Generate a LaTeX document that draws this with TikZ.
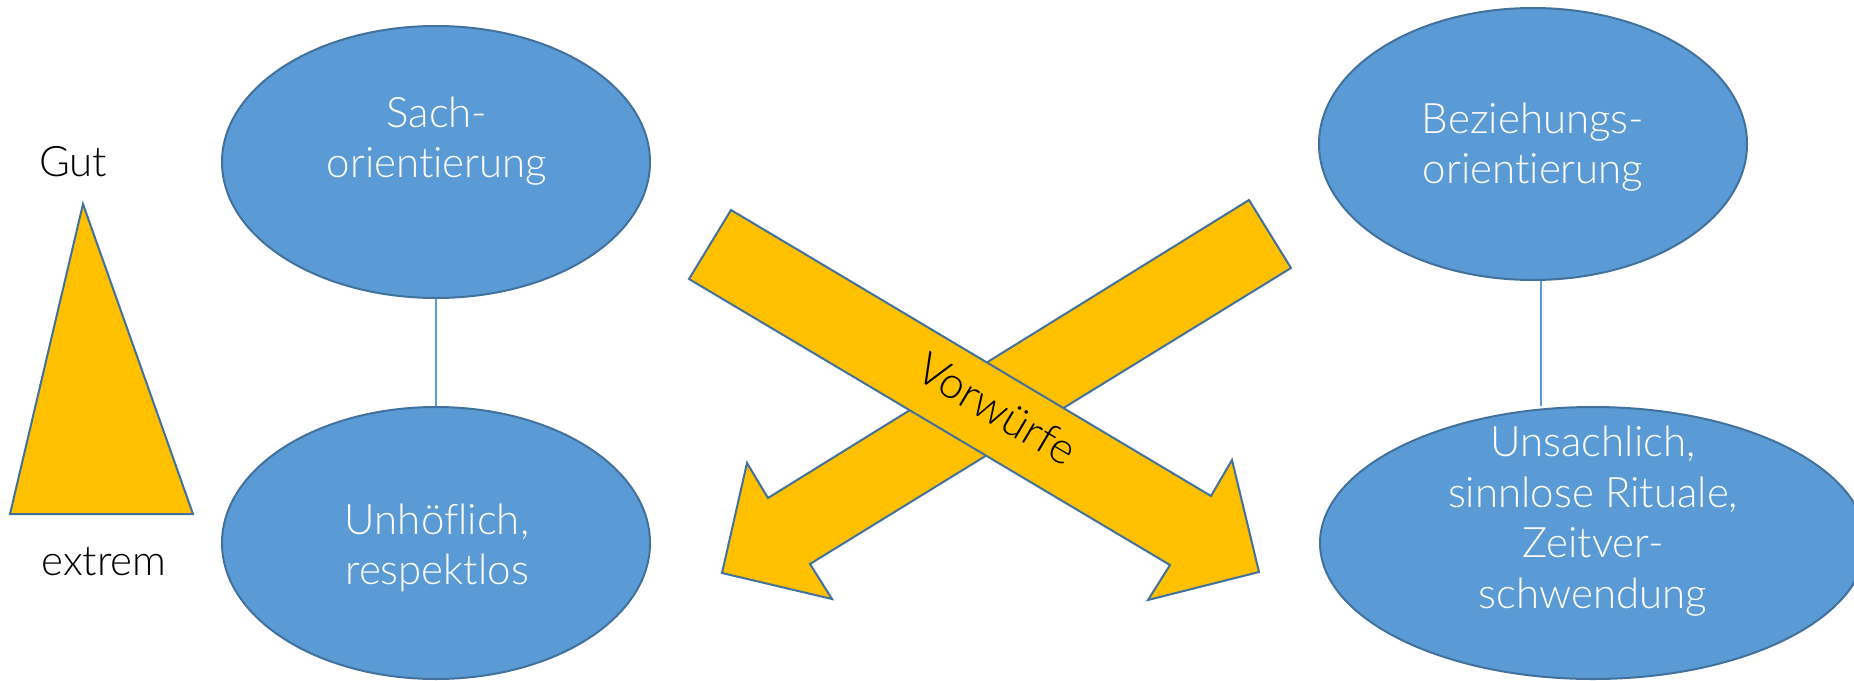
\documentclass[tikz,border=0pt]{standalone}
\usepackage{fontspec}
\setmainfont{Lato Light}[Ligatures=NoCommon]
\usetikzlibrary{shapes.geometric}
\definecolor{ellfill}{HTML}{5B9BD5}
\definecolor{ellline}{HTML}{41719C}
\definecolor{arrfill}{HTML}{FFC000}
\tikzset{
  ell/.style={ellipse, fill=ellfill, draw=ellline, line width=2pt, inner sep=0pt, minimum width=428pt, minimum height=272pt},
  elltext/.style={text=white, align=center, font=\fontsize{42}{50.5}\selectfont, inner sep=0pt},
  sidetext/.style={text=black, font=\fontsize{42}{50}\selectfont, inner sep=0pt},
  yshape/.style={fill=arrfill, draw=ellline, line width=2pt, line join=miter},
  conn/.style={draw=ellfill, line width=1.2pt}
}
\begin{document}
\begin{tikzpicture}[x=1pt,y=-1pt]
\useasboundingbox (0,0) rectangle (1854,680);
% side scale
\node[sidetext, anchor=base] (gut) at (73,176) {Gut};
\draw[yshape] (83,204) -- (193,514) -- (10,514) -- cycle;
\node[sidetext, anchor=base] (extrem) at (104,575) {extrem};
% ellipses
\node[ell] (sach) at (436,162) {};
\node[ell] (unh) at (436,543) {};
\node[ell] (bez) at (1533,144) {};
\node[ell, minimum width=546pt] (uns) at (1593,543) {};
\node[elltext] (sacht) at (437,141) {Sach-\\orientierung};
\node[elltext] (unht) at (437,548) {Unhöflich,\\respektlos};
\node[elltext] (bezt) at (1533,147) {Beziehungs-\\orientierung};
\node[elltext] (unst) at (1593,521) {Unsachlich,\\sinnlose Rituale,\\Zeitver-\\schwendung};
% connectors
\draw[conn] (sach.south) -- (unh.north);
\draw[conn] ([xshift=8pt]bez.south) -- ([xshift=8pt]bez.south |- uns.north);
% crossing arrows
\draw[yshape] (1249,200) -- (1291,268) -- (810,564) -- (832,599) -- (722,573) -- (747,463) -- (768,498) -- cycle;
\draw[yshape] (731,210) -- (1211,496) -- (1232,460) -- (1259,572) -- (1148,600) -- (1170,565) -- (689,279) -- cycle;
\node[text=black, font=\fontsize{44}{50}\selectfont, rotate=-30.8, inner sep=0pt] (vorw) at (997,409) {Vorwürfe};
\end{tikzpicture}
\end{document}
